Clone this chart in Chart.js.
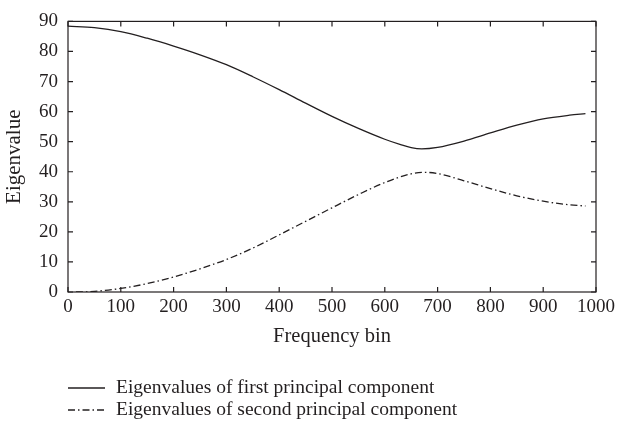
<!DOCTYPE html>
<html>
<head>
<meta charset="utf-8">
<script src="https://cdn.jsdelivr.net/npm/chart.js@4/dist/chart.umd.min.js"></script>
<style>
  body { margin: 0; background: #fff; }
  #wrap { width: 619px; height: 430px; }
</style>
</head>
<body>
<div id="wrap"><canvas id="myChart" width="619" height="430"></canvas></div>
<script>
const ctx = document.getElementById("myChart");

// frequency bins and eigenvalues
const bins1 = [0, 50, 100, 150, 200, 250, 300, 350, 400, 450, 500, 550, 600, 630, 650, 670, 700, 750, 800, 850, 900, 950, 980];
const eig1 = [88.4, 87.9, 86.6, 84.4, 81.8, 78.9, 75.6, 71.6, 67.3, 62.8, 58.4, 54.4, 50.8, 49.0, 48.0, 47.6, 48.1, 50.2, 52.9, 55.5, 57.6, 58.8, 59.3];

const bins2 = [15, 50, 100, 150, 200, 250, 300, 350, 400, 450, 500, 550, 600, 650, 675, 700, 750, 800, 850, 900, 950, 980];
const eig2 = [0, 0.2, 1.2, 2.8, 5.0, 7.7, 10.8, 14.6, 19.0, 23.5, 28.0, 32.4, 36.4, 39.3, 39.8, 39.4, 37.0, 34.4, 32.0, 30.2, 29.0, 28.6];

const xTicks = [0, 100, 200, 300, 400, 500, 600, 700, 800, 900, 1000];
const yTicks = [0, 10, 20, 30, 40, 50, 60, 70, 80, 90];

const seriesNames = [
  "Eigenvalues of first principal component",
  "Eigenvalues of second principal component",
];

const ink = "#231f20";
const font = "'Liberation Serif', 'DejaVu Serif', serif";

const toPoints = (xs, ys) => xs.map((x, i) => ({ x: x, y: ys[i] }));

// frame on all four sides + inward ticks, like the original
const framePlugin = {
  id: "frame",
  afterDatasetsDraw(chart) {
    const c = chart.ctx;
    const a = chart.chartArea;
    const sx = chart.scales.x;
    const sy = chart.scales.y;
    c.save();
    c.strokeStyle = ink;
    c.lineWidth = 1.2;
    c.strokeRect(a.left, a.top, a.right - a.left, a.bottom - a.top);
    c.beginPath();
    xTicks.forEach((v) => {
      const px = sx.getPixelForValue(v);
      c.moveTo(px, a.bottom);
      c.lineTo(px, a.bottom - 5);
      c.moveTo(px, a.top);
      c.lineTo(px, a.top + 5);
    });
    yTicks.forEach((v) => {
      const py = sy.getPixelForValue(v);
      c.moveTo(a.left, py);
      c.lineTo(a.left + 5, py);
      c.moveTo(a.right, py);
      c.lineTo(a.right - 5, py);
    });
    c.stroke();
    c.restore();
  },
};

// legend below the axis title, one line per series
const legendPlugin = {
  id: "lineLegend",
  afterDraw(chart) {
    const c = chart.ctx;
    c.save();
    c.font = "19.5px " + font;
    c.fillStyle = ink;
    c.textBaseline = "middle";
    chart.data.datasets.forEach((ds, i) => {
      const y = 388 + i * 22;
      c.strokeStyle = ds.borderColor;
      c.lineWidth = ds.borderWidth;
      c.setLineDash(ds.borderDash || []);
      c.beginPath();
      c.moveTo(68, y);
      c.lineTo(105, y);
      c.stroke();
      c.setLineDash([]);
      c.fillText(ds.label, 116, y);
    });
    c.restore();
  },
};

new Chart(ctx, {
  type: "line",
  data: {
    datasets: [
      {
        label: seriesNames[0],
        data: toPoints(bins1, eig1),
        borderColor: ink,
        borderWidth: 1.3,
        pointRadius: 0,
        cubicInterpolationMode: "monotone",
      },
      {
        label: seriesNames[1],
        data: toPoints(bins2, eig2),
        borderColor: ink,
        borderWidth: 1.3,
        borderDash: [7, 3, 1.5, 3],
        pointRadius: 0,
        cubicInterpolationMode: "monotone",
      },
    ],
  },
  options: {
    responsive: false,
    animation: false,
    devicePixelRatio: 1,
    layout: { padding: { top: 14, right: 22, bottom: 78, left: 0 } },
    plugins: {
      legend: { display: false },
      tooltip: { enabled: false },
    },
    scales: {
      x: {
        type: "linear",
        min: 0,
        max: 1000,
        afterBuildTicks: (s) => { s.ticks = xTicks.map((v) => ({ value: v })); },
        afterFit: (s) => { s.height = 60; },
        grid: { display: false, drawTicks: false },
        border: { display: false },
        ticks: {
          color: ink,
          font: { family: font, size: 19 },
          padding: 4,
          maxRotation: 0,
          callback: (v) => String(v),
        },
        title: {
          display: true,
          text: "Frequency bin",
          color: ink,
          font: { family: font, size: 20.5 },
          padding: { top: 0, bottom: 3 },
        },
      },
      y: {
        min: 0,
        max: 90,
        afterBuildTicks: (s) => { s.ticks = yTicks.map((v) => ({ value: v })); },
        afterFit: (s) => { s.width = 68; },
        grid: { display: false, drawTicks: false },
        border: { display: false },
        ticks: { color: ink, font: { family: font, size: 19 }, padding: 10 },
        title: {
          display: true,
          text: "Eigenvalue",
          color: ink,
          font: { family: font, size: 21 },
          padding: { top: 2, bottom: 0 },
        },
      },
    },
  },
  plugins: [framePlugin, legendPlugin],
});
</script>
</body>
</html>
